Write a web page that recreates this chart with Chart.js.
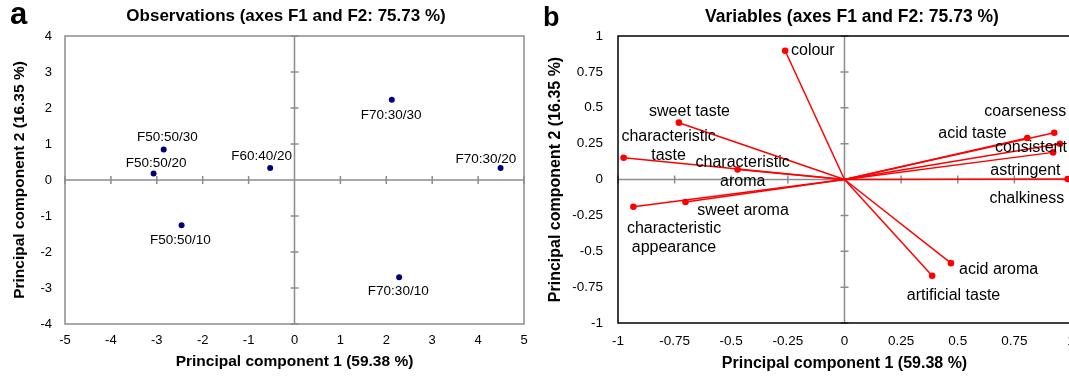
<!DOCTYPE html>
<html><head><meta charset="utf-8">
<script src="https://cdn.jsdelivr.net/npm/chart.js@4.4.1/dist/chart.umd.min.js"></script>
<style>
html,body{margin:0;padding:0;background:#fff;}
#wrap{position:relative;width:1069px;height:377px;overflow:hidden;background:#fff;font-family:"Liberation Sans",Arial,sans-serif;}
canvas{position:absolute;top:0;}
.t{position:absolute;white-space:nowrap;font-weight:bold;color:#000;}
.c{transform:translateX(-50%);}
</style></head><body>
<div id="wrap">
<canvas id="ca" width="540" height="377" style="left:0"></canvas>
<canvas id="cb" width="540" height="377" style="left:540px"></canvas>
<div class="t" style="left:10px;top:-2px;font-size:31px;line-height:31px">a</div>
<div class="t" style="left:543px;top:4px;font-size:27px;line-height:27px">b</div>
<div class="t c" style="left:286px;top:6px;font-size:17px;line-height:20px">Observations (axes F1 and F2: 75.73 %)</div>
<div class="t c" style="left:852px;top:6px;font-size:17.5px;line-height:20px">Variables (axes F1 and F2: 75.73 %)</div>
</div>
<script>
// ---- data ----
const obsNames = ['F50:50/30','F50:50/20','F60:40/20','F70:30/30','F70:30/20','F50:50/10','F70:30/10'];
const obsF1 = [-2.85,-3.07,-0.53,2.12,4.49,-2.46,2.28];
const obsF2 = [0.85,0.18,0.33,2.23,0.33,-1.26,-2.70];

const obsXTicks = ['-5','-4','-3','-2','-1','0','1','2','3','4','5'];
const obsYTicks = ['-4','-3','-2','-1','0','1','2','3','4'];

const varNames = ['colour','sweet taste','characteristic\ntaste','characteristic\naroma','sweet aroma','characteristic\nappearance','acid aroma','artificial taste','coarseness','acid taste','consistent','astringent','chalkiness'];
const varF1 = [-0.262,-0.731,-0.975,-0.472,-0.702,-0.932,0.470,0.387,0.926,0.807,0.951,0.921,0.985];
const varF2 = [0.897,0.396,0.152,0.070,-0.157,-0.190,-0.583,-0.671,0.326,0.289,0.249,0.189,0.003];

const varTicks = ['-1','-0.75','-0.5','-0.25','0','0.25','0.5','0.75','1'];

// ---- label placement (style) ----
const obsLabelOffsets = [[3.6,-12.3],[2.6,-10.3],[-8.6,-11.7],[-0.7,16],[-14.8,-9],[-1.2,15.3],[-0.9,14.3]];
const varLabelOffsets = [[27.7,0],[10.6,-10.8],[44.9,-12],[5.1,2.9],[57.5,8.1],[40.6,31.4],[47.7,6.7],[21.4,20.2],[-29,-20.9],[-54.8,-4.4],[-29,3.4],[-27.7,18.2],[-40.8,20]];

Chart.defaults.font.family = '"Liberation Sans", Arial, sans-serif';
Chart.defaults.color = '#000';
Chart.defaults.animation = false;

const frame = {
  id: 'frame',
  beforeDatasetsDraw(chart, args, o) {
    const {ctx, chartArea: a, scales: {x, y}} = chart;
    ctx.save();
    ctx.strokeStyle = o.axisColor; ctx.lineWidth = o.axisWidth;
    const x0 = x.getPixelForValue(0), y0 = y.getPixelForValue(0);
    ctx.beginPath();
    ctx.moveTo(x0, a.top); ctx.lineTo(x0, a.bottom);
    ctx.moveTo(a.left, y0); ctx.lineTo(a.right, y0);
    x.ticks.forEach(t => { const p = x.getPixelForValue(t.value); ctx.moveTo(p, y0 - o.tick); ctx.lineTo(p, y0 + o.tick); });
    y.ticks.forEach(t => { const p = y.getPixelForValue(t.value); ctx.moveTo(x0 - o.tick, p); ctx.lineTo(x0 + o.tick, p); });
    ctx.stroke();
    ctx.strokeStyle = o.borderColor; ctx.lineWidth = o.borderWidth;
    ctx.strokeRect(a.left, a.top, a.width, a.height);
    ctx.restore();
  }
};

const pointLabels = {
  id: 'pointLabels',
  afterDatasetsDraw(chart, args, o) {
    const ctx = chart.ctx;
    ctx.save();
    ctx.font = o.font; ctx.fillStyle = o.color;
    ctx.textAlign = 'center'; ctx.textBaseline = 'middle';
    o.items.forEach(it => {
      const el = chart.getDatasetMeta(it.ds).data[it.idx];
      const lines = it.text.split('\n');
      lines.forEach((ln, k) => {
        ctx.fillText(ln, el.x + it.dx, el.y + it.dy + (k - (lines.length - 1) / 2) * o.lineHeight);
      });
    });
    ctx.restore();
  }
};

function axis(min, max, step, labels, tickSize, tickPad, title, titleSize, titlePad, fit) {
  return {
    type: 'linear', min: min, max: max,
    grid: {display: false, drawTicks: false, tickLength: 0},
    border: {display: false},
    ticks: {stepSize: step, autoSkip: false, maxRotation: 0, minRotation: 0, padding: tickPad,
            font: {size: tickSize}, color: '#000', callback: (v, i) => labels[i]},
    title: {display: true, text: title, color: '#000', font: {size: titleSize, weight: 'bold'}, padding: titlePad},
    afterFit: fit
  };
}

// ---- panel a ----
new Chart(document.getElementById('ca'), {
  type: 'scatter',
  data: {datasets: [{
    data: obsF1.map((v, i) => ({x: v, y: obsF2[i]})),
    pointRadius: 3, pointHoverRadius: 3, backgroundColor: '#00007f', pointBorderWidth: 0, borderWidth: 0
  }]},
  options: {
    responsive: false, animation: false, events: [],
    layout: {padding: {left: 0, top: 36, right: 16, bottom: 6}},
    plugins: {
      legend: {display: false}, tooltip: {enabled: false},
      frame: {axisColor: '#8c8c8c', axisWidth: 1.5, tick: 4, borderColor: '#8c8c8c', borderWidth: 1.5},
      pointLabels: {font: '13.5px "Liberation Sans", Arial, sans-serif', color: '#000', lineHeight: 16,
        items: obsNames.map((n, i) => ({ds: 0, idx: i, text: n, dx: obsLabelOffsets[i][0], dy: obsLabelOffsets[i][1]}))}
    },
    scales: {
      x: Object.assign({position: 'bottom'}, axis(-5, 5, 1, obsXTicks, 13, 9, 'Principal component 1 (59.38 %)', 15.5, {top: 0, bottom: 0}, s => { s.height = 47; s.paddingLeft = 0; s.paddingRight = 0; })),
      y: Object.assign({position: 'left'}, axis(-4, 4, 1, obsYTicks, 13, 13, 'Principal component 2 (16.35 %)', 15.5, {top: 10.7, bottom: 0}, s => { s.width = 65; s.paddingTop = 0; s.paddingBottom = 0; }))
    }
  },
  plugins: [frame, pointLabels]
});

// ---- panel b ----
new Chart(document.getElementById('cb'), {
  type: 'scatter',
  data: {datasets: varF1.map((v, i) => ({
    data: [{x: 0, y: 0}, {x: v, y: varF2[i]}],
    showLine: true, borderColor: '#ff0000', borderWidth: 1.5, backgroundColor: '#ff0000',
    pointRadius: [0, 3.3], pointHoverRadius: [0, 3.3], pointBorderWidth: 0, clip: false
  }))},
  options: {
    responsive: false, animation: false, events: [],
    layout: {padding: {left: 0, top: 36, right: 9, bottom: 4}},
    plugins: {
      legend: {display: false}, tooltip: {enabled: false},
      frame: {axisColor: '#8c8c8c', axisWidth: 1.5, tick: 4, borderColor: '#000', borderWidth: 1.5},
      pointLabels: {font: '16px "Liberation Sans", Arial, sans-serif', color: '#000', lineHeight: 19,
        items: varNames.map((n, i) => ({ds: i, idx: 1, text: n, dx: varLabelOffsets[i][0], dy: varLabelOffsets[i][1]}))}
    },
    scales: {
      x: Object.assign({position: 'bottom'}, axis(-1, 1, 0.25, varTicks, 13.5, 10, 'Principal component 1 (59.38 %)', 16, {top: 0, bottom: 0}, s => { s.height = 50; s.paddingLeft = 0; s.paddingRight = 0; })),
      y: Object.assign({position: 'left'}, axis(-1, 1, 0.25, varTicks, 13.5, 15, 'Principal component 2 (16.35 %)', 16, {top: 6.4, bottom: 0}, s => { s.width = 78; s.paddingTop = 0; s.paddingBottom = 0; }))
    }
  },
  plugins: [frame, pointLabels]
});
</script>
</body></html>
